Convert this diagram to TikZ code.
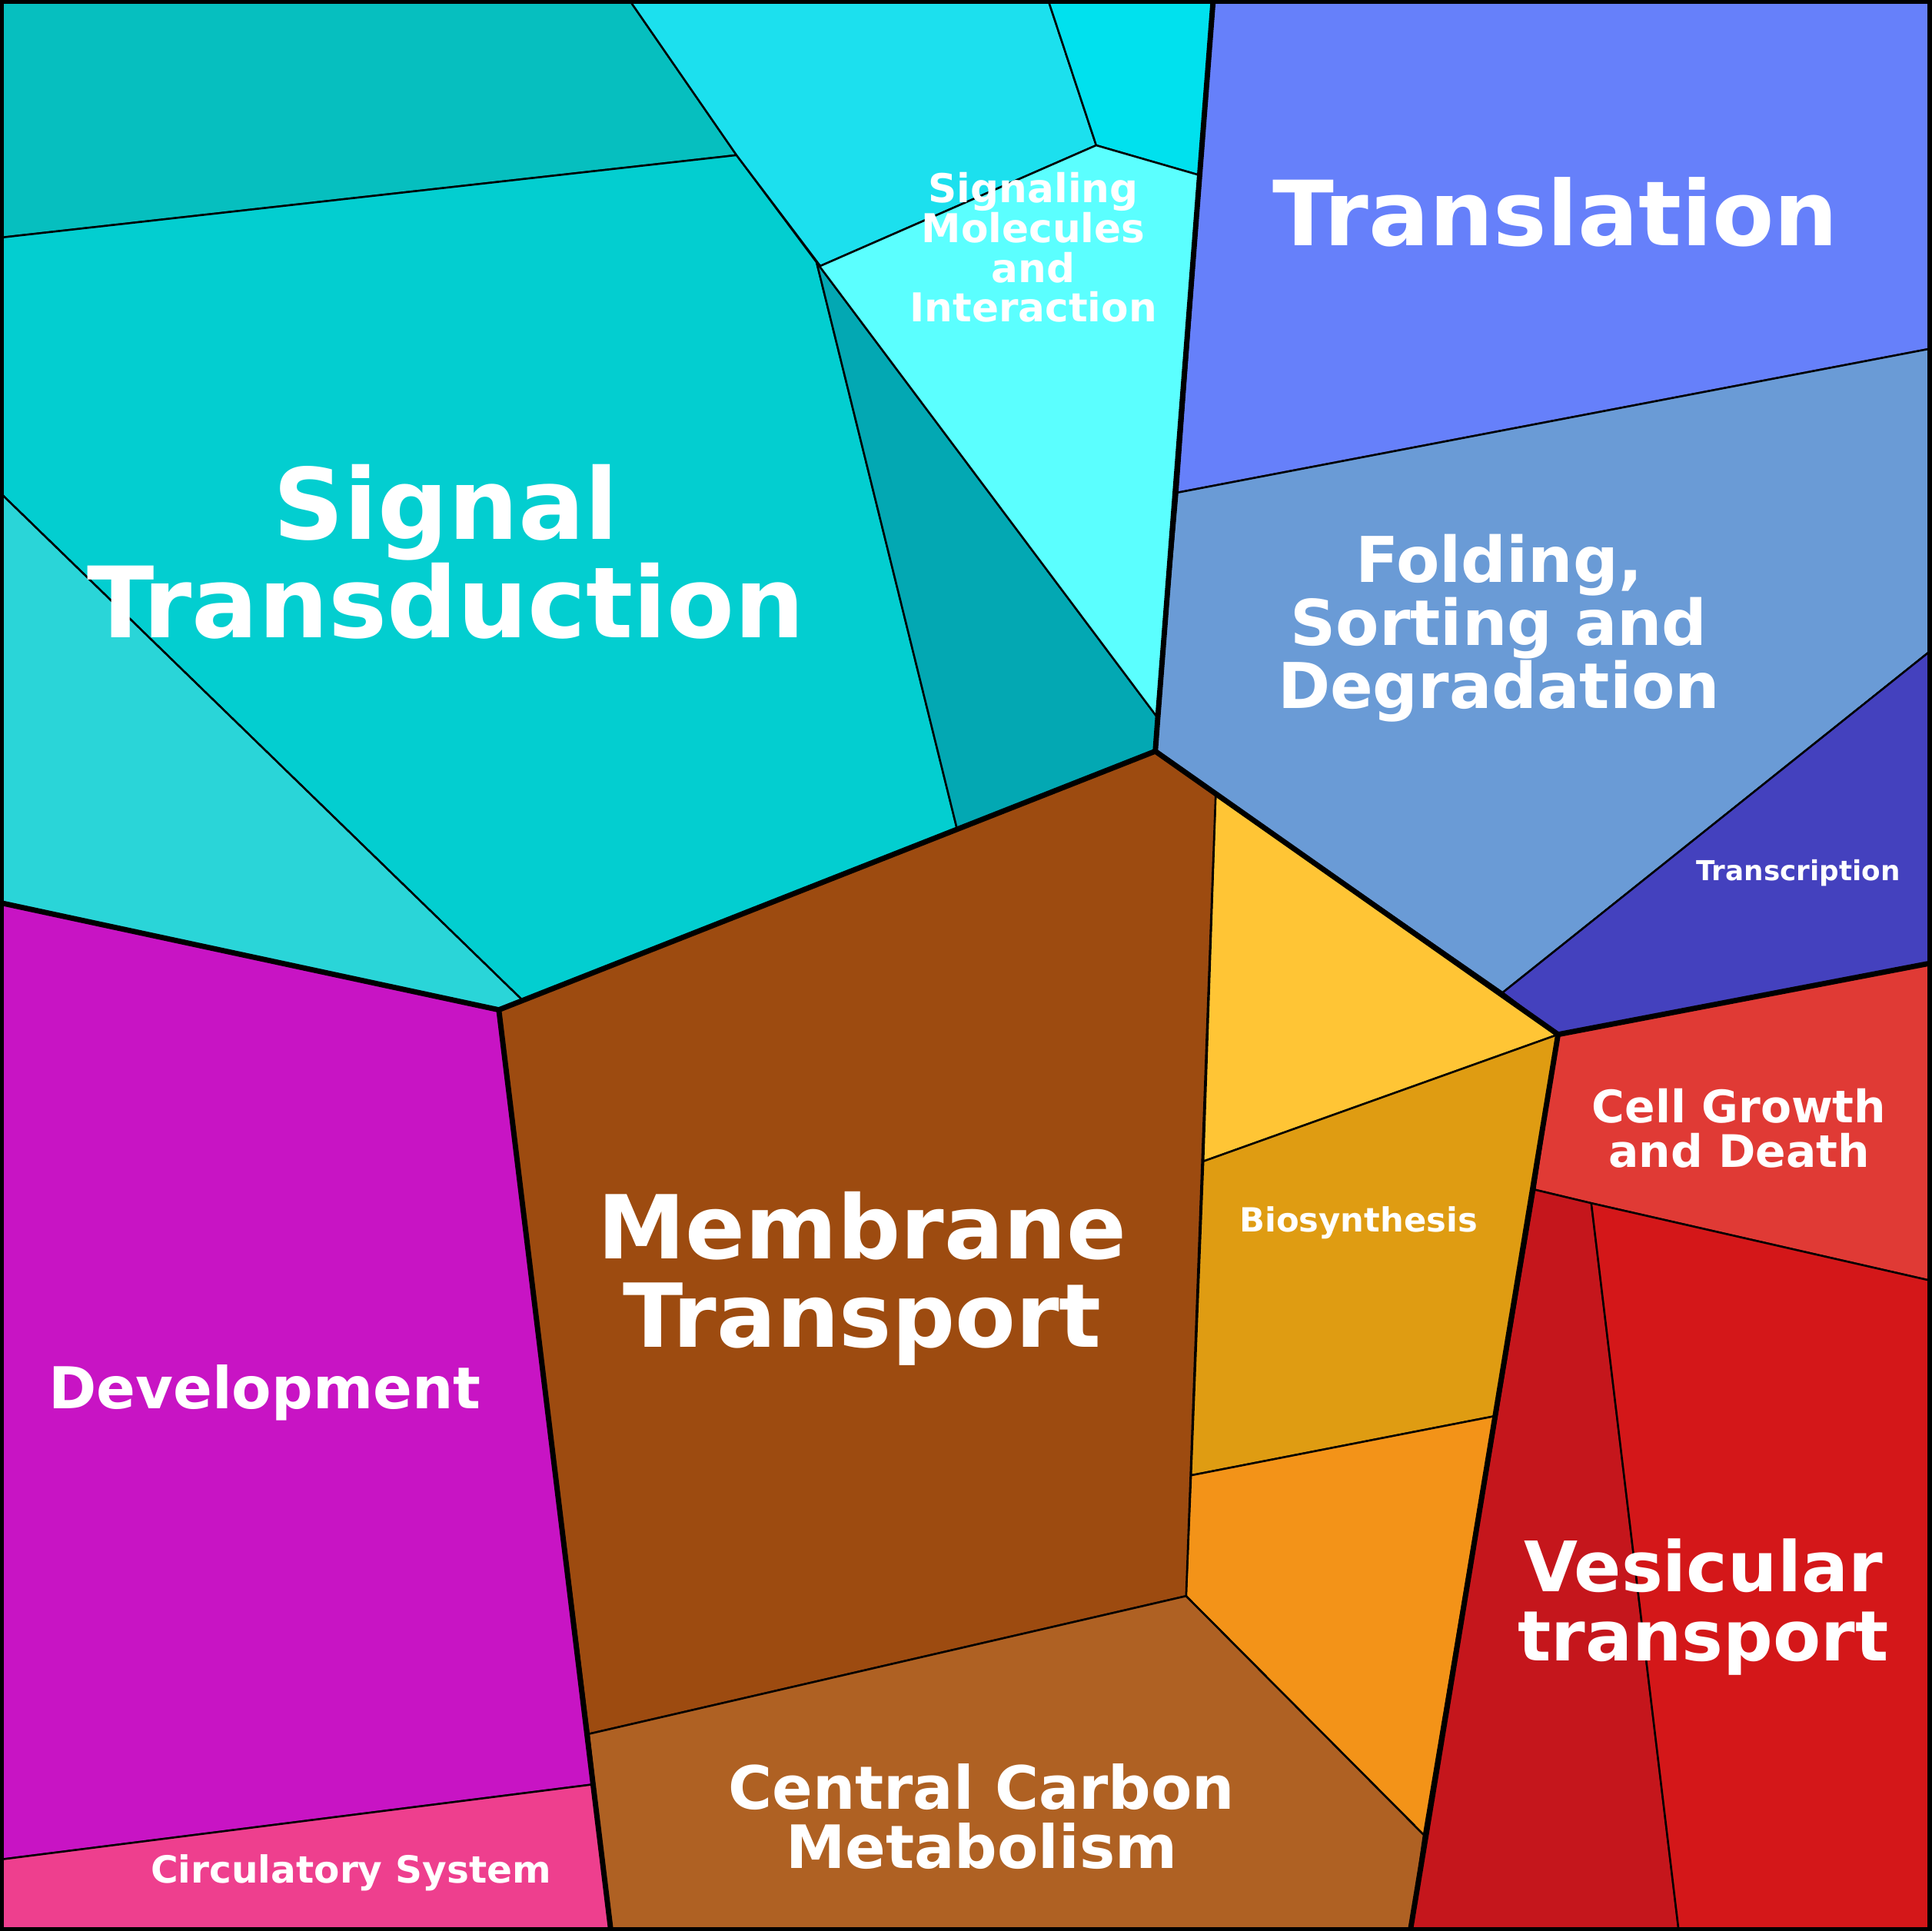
\documentclass[tikz,border=0pt]{standalone}
\usepackage{fontspec}
\setmainfont{DejaVu Sans}
\begin{document}
\begin{tikzpicture}[x=0.1275mm, y=-0.1275mm, line join=round,
  cell/.style={draw=black, line width=0.2mm},
  group line/.style={draw=black, line width=0.55mm},
  label/.style={text=white, align=center, font=\bfseries},
  fs/.style={font=\bfseries\fontsize{#1}{#1}\selectfont}]

\useasboundingbox (0,0) rectangle (1568,1568);

% signal group
\definecolor{cA}{HTML}{06BFBF}\definecolor{cB}{HTML}{03CED0}
\definecolor{cC}{HTML}{2AD5D8}\definecolor{cD}{HTML}{03A8B3}
\definecolor{cE}{HTML}{1CE0EE}\definecolor{cF}{HTML}{00E1EE}
\definecolor{cG}{HTML}{5BFFFF}
\filldraw[cell, fill=cA] (0,0) -- (511,0) -- (598,126) -- (0,193) -- cycle;
\filldraw[cell, fill=cB] (0,193) -- (598,126) -- (663,213) -- (777,673) -- (424,812) -- (0,400) -- cycle;
\filldraw[cell, fill=cC] (0,400) -- (424,812) -- (405,820) -- (0,733) -- cycle;
\filldraw[cell, fill=cD] (663,213) -- (940,583) -- (938,610) -- (777,673) -- cycle;
\filldraw[cell, fill=cE] (511,0) -- (851,0) -- (890,118) -- (666,216) -- (598,126) -- cycle;
\filldraw[cell, fill=cF] (851,0) -- (985,0) -- (973,142) -- (890,118) -- cycle;
\filldraw[cell, fill=cG] (666,216) -- (890,118) -- (973,142) -- (940,583) -- (663,213) -- cycle;

% translation group
\definecolor{cH}{HTML}{6680FA}\definecolor{cI}{HTML}{6A9BD6}
\definecolor{cJ}{HTML}{4441BE}
\filldraw[cell, fill=cH] (985,0) -- (1568,0) -- (1568,283) -- (956,400) -- cycle;
\filldraw[cell, fill=cI] (956,400) -- (1568,283) -- (1568,528) -- (1220,806) -- (938,610) -- (940,583) -- cycle;
\filldraw[cell, fill=cJ] (1568,528) -- (1568,782) -- (1265,840) -- (1220,806) -- cycle;

% metabolism group
\definecolor{cK}{HTML}{FFC535}\definecolor{cL}{HTML}{DF9C12}
\definecolor{cM}{HTML}{F39318}\definecolor{cN}{HTML}{9D4B10}
\definecolor{cO}{HTML}{AF6123}
\filldraw[cell, fill=cK] (987,645) -- (1265,840) -- (977,943) -- cycle;
\filldraw[cell, fill=cL] (977,943) -- (1265,840) -- (1213,1150) -- (967,1198) -- cycle;
\filldraw[cell, fill=cM] (967,1198) -- (1213,1150) -- (1156,1490) -- (963,1296) -- cycle;
\filldraw[cell, fill=cN] (405,820) -- (938,610) -- (987,645) -- (963,1296) -- (478,1408) -- cycle;
\filldraw[cell, fill=cO] (478,1408) -- (963,1296) -- (1156,1490) -- (1145,1568) -- (496,1568) -- cycle;

% red group
\definecolor{cP}{HTML}{E03A35}\definecolor{cQ}{HTML}{C5161C}
\definecolor{cR}{HTML}{D41719}
\filldraw[cell, fill=cP] (1265,840) -- (1568,782) -- (1568,1040) -- (1292,977) -- (1246,966) -- cycle;
\filldraw[cell, fill=cQ] (1246,966) -- (1292,977) -- (1363,1568) -- (1145,1568) -- cycle;
\filldraw[cell, fill=cR] (1292,977) -- (1568,1040) -- (1568,1568) -- (1363,1568) -- cycle;

% development group
\definecolor{cS}{HTML}{C814C4}\definecolor{cT}{HTML}{EE3F8E}
\filldraw[cell, fill=cS] (0,733) -- (405,820) -- (481,1449) -- (0,1510) -- cycle;
\filldraw[cell, fill=cT] (0,1510) -- (481,1449) -- (496,1568) -- (0,1568) -- cycle;

% group borders
\draw[group line] (985,0) -- (940,583) -- (938,610) -- (405,820) -- (0,733);
\draw[group line] (938,610) -- (1265,840) -- (1568,782);
\draw[group line] (1265,840) -- (1145,1568);
\draw[group line] (405,820) -- (496,1568);
\draw[black, line width=0.8mm] (0,0) rectangle (1568,1568);

% labels
\node[label, fs=29pt] (signal) at (362,448) {Signal\\Transduction};
\node[label, fs=26.5pt] (translation) at (1263,172) {Translation};
\node[label, fs=18.6pt] (folding) at (1217,510) {Folding,\\Sorting and\\Degradation};
\node[label, fs=11.7pt] (molecules) at (839,201) {Signaling\\Molecules\\and\\Interaction};
\node[label, fs=8.1pt] (transcription) at (1460,709) {Transcription};
\node[label, fs=13.2pt] (growth) at (1412,916) {Cell Growth\\and Death};
\node[label, fs=9.8pt] (biosynthesis) at (1103,993) {Biosynthesis};
\node[label, fs=26pt] (membrane) at (700,1038) {Membrane\\Transport};
\node[label, fs=20.5pt] (vesicular) at (1383,1305) {Vesicular\\transport};
\node[label, fs=17.6pt] (carbon) at (797,1475) {Central Carbon\\Metabolism};
\node[label, fs=17pt] (development) at (215,1131) {Development};
\node[label, fs=11pt] (circulatory) at (285,1521) {Circulatory System};

\end{tikzpicture}
\end{document}
